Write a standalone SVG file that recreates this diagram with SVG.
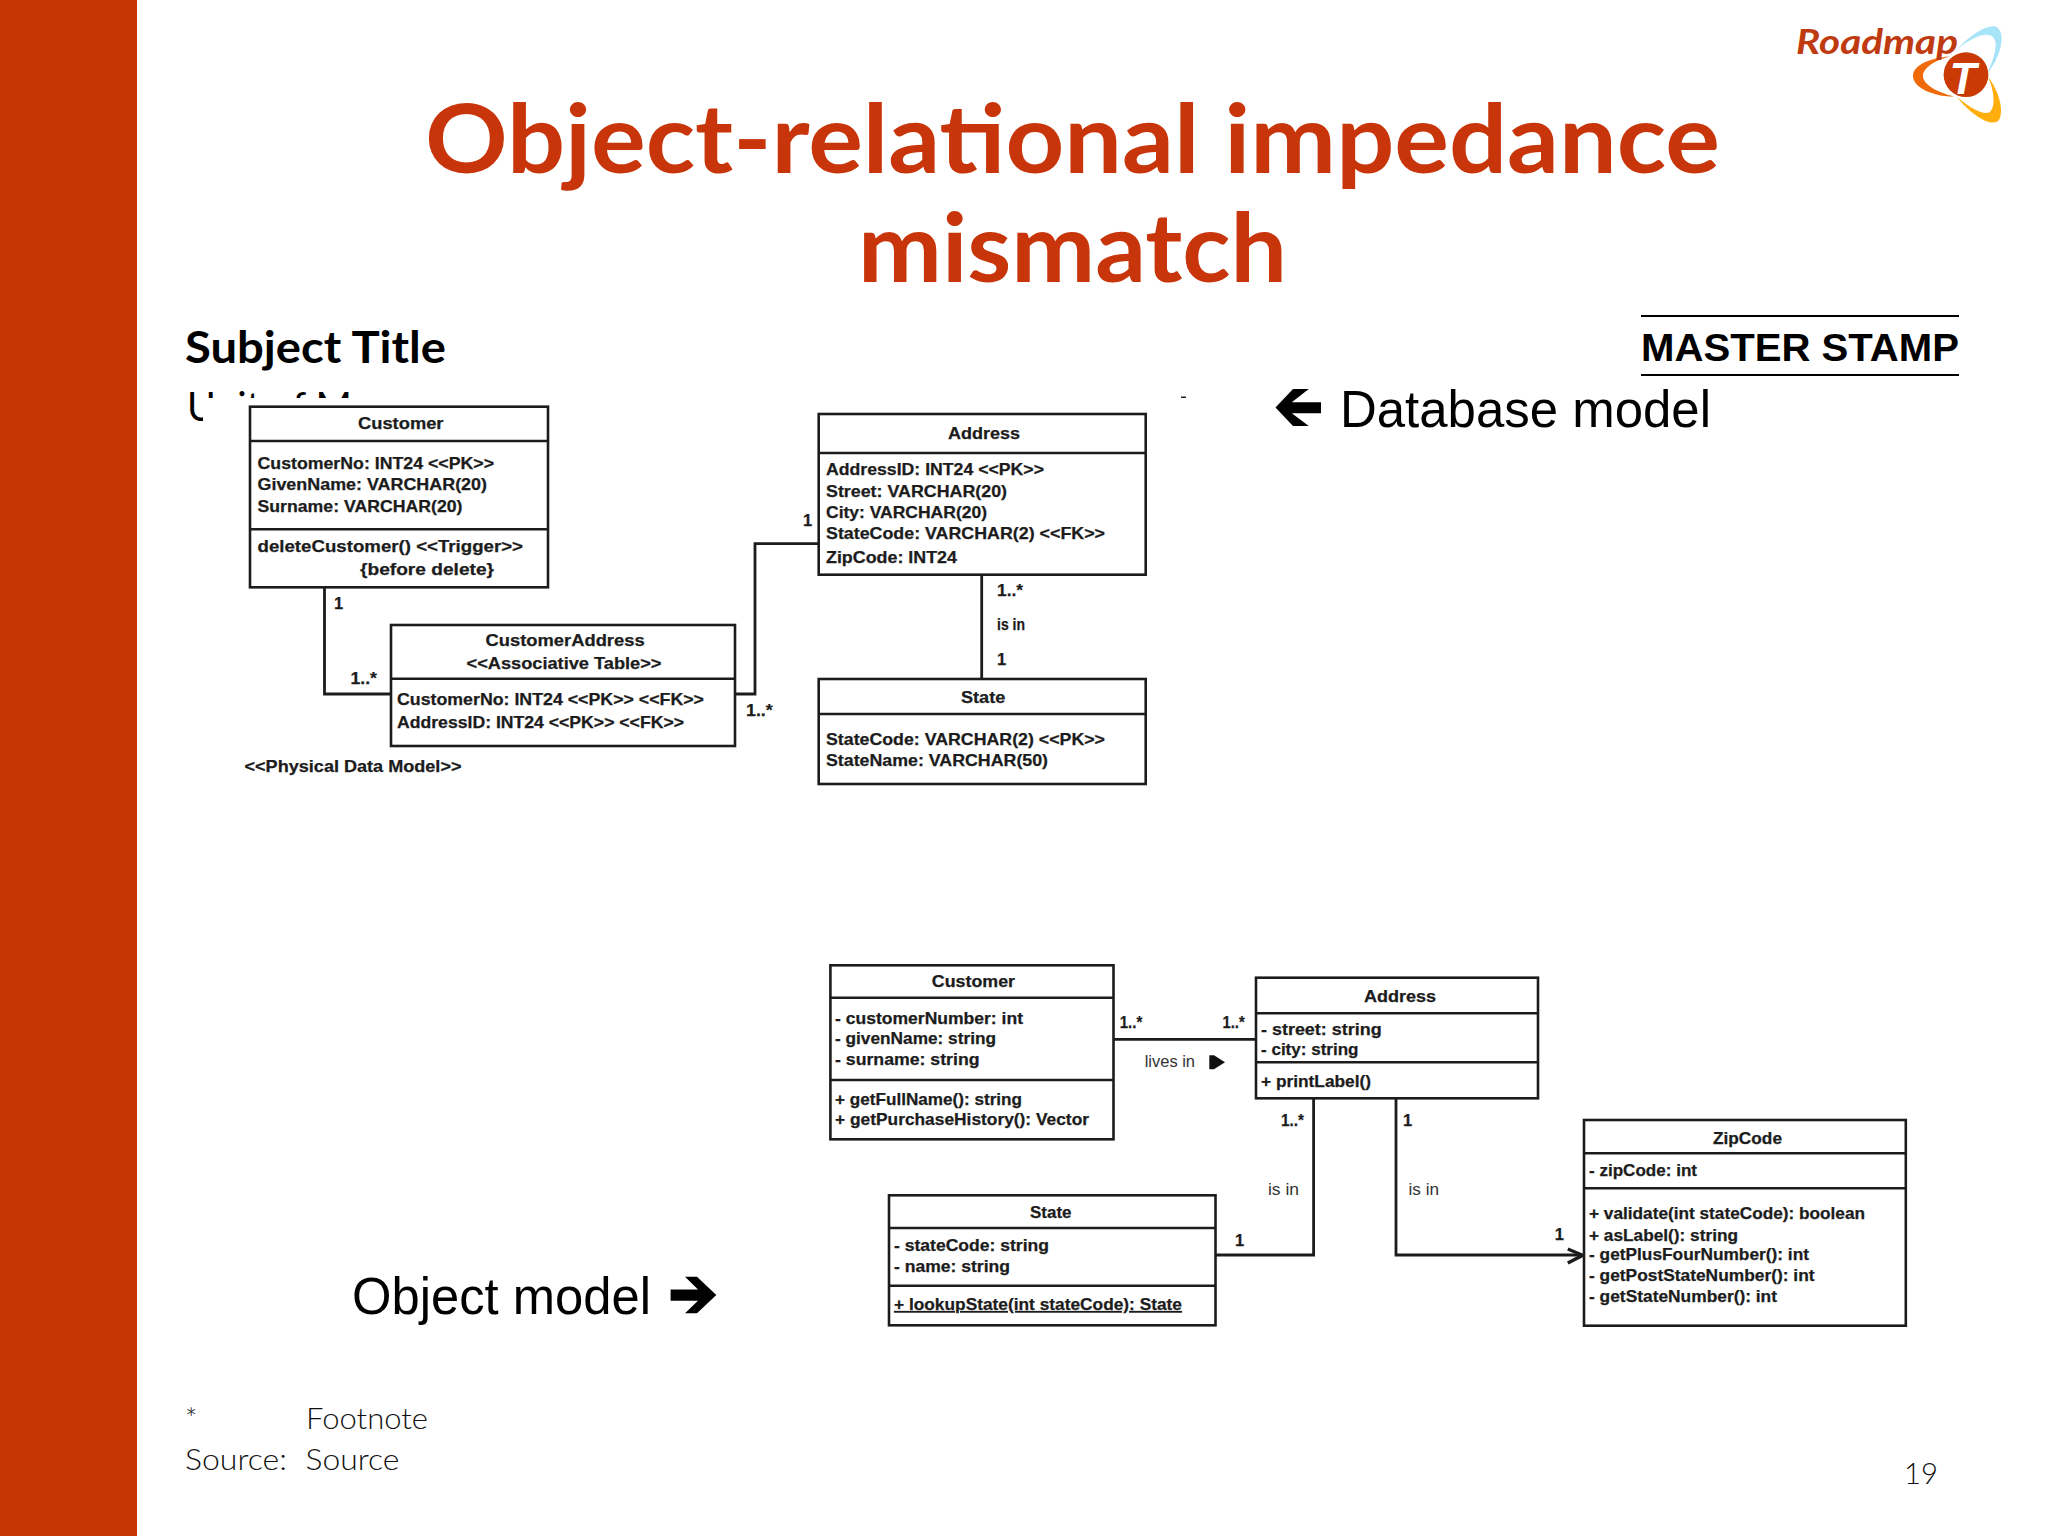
<svg xmlns="http://www.w3.org/2000/svg" width="2048" height="1536" viewBox="0 0 2048 1536">
<style>
.t{font-family:"Lato","Noto Sans",sans-serif}
.title{font-size:95px;font-weight:700;fill:#c8350a}
.sub{font-size:44px;font-weight:700;fill:#000}
.unit{font-size:40px;fill:#000}
.foot{font-size:29px;font-weight:300;fill:#111}
.h{font-family:"Liberation Sans",Arial,sans-serif;fill:#000}
.big{font-size:52px}
.m{font-family:"Liberation Sans",Arial,sans-serif;font-size:16.5px;font-weight:700;fill:#1c1c1c;stroke:#1c1c1c;stroke-width:.25}
.n{font-family:"Liberation Sans",Arial,sans-serif;font-size:16.5px;fill:#333}
.b{fill:#fff;stroke:#1c1c1c;stroke-width:2.6}
.d{stroke:#1c1c1c;stroke-width:2.6;fill:none}
.c{stroke:#1c1c1c;stroke-width:2.8;fill:none}
</style>
<rect width="2048" height="1536" fill="#fff"/>
<rect id="sidebar" width="137" height="1536" fill="#c63406"/>
<g id="heading">
<text class="t title" x="425" y="173" textLength="1295" lengthAdjust="spacingAndGlyphs">Object-relational impedance</text>
<text class="t title" x="858" y="282" textLength="429" lengthAdjust="spacingAndGlyphs">mismatch</text>
<text class="t sub" x="185" y="363" textLength="261" lengthAdjust="spacingAndGlyphs">Subject Title</text>
<text class="t unit" x="187" y="421" textLength="165" lengthAdjust="spacingAndGlyphs">Unit of M</text>
<rect x="203" y="398" width="990" height="30" fill="#fff"/>
<rect x="1181" y="396.5" width="5" height="1.5" fill="#222"/>
</g>
<g id="stamp">
<line x1="1641" y1="316" x2="1959" y2="316" stroke="#000" stroke-width="2"/>
<line x1="1641" y1="375" x2="1959" y2="375" stroke="#000" stroke-width="2"/>
<text class="h" x="1641" y="361" font-size="38.5" font-weight="700" textLength="318" lengthAdjust="spacingAndGlyphs">MASTER STAMP</text>
</g>
<g id="logo">
<path d="M1956.7 50C1972 32 1992 22 1998 28C2006 36 2000 58 1987 74C1996 54 1998 42 1993 37C1987 31 1970 38 1956.7 50Z" fill="#a8e4f8"/>
<path d="M1950 56.5C1928 58 1913 66 1913 76C1913 88 1935 97 1954 96.5C1936 92 1923 84 1923 76C1923 68 1935 60 1950 56.5Z" fill="#f06a0a"/>
<path d="M1988 77C2000 92 2004 112 1999 120C1992 128 1972 116 1957 97C1970 108 1984 116 1990 112C1996 106 1994 90 1988 77Z" fill="#ffae0d"/>
<circle cx="1966" cy="74.7" r="22.4" fill="#c93a05"/>
<text class="h" x="1963" y="93.5" font-size="44" font-weight="700" font-style="italic" text-anchor="middle" style="fill:#fff">T</text>
<text class="t" x="1796" y="54" font-size="34" font-weight="700" font-style="italic" fill="#bf3a10" textLength="162" lengthAdjust="spacingAndGlyphs">Roadmap</text>
</g>
<g id="labels">
<polygon points="1293,389 1308.8,389 1291.8,402.3 1321,402.3 1321,413.3 1291.8,413.3 1308.8,426 1293,426 1275.5,407.5" fill="#000"/>
<text class="h big" x="1340" y="426.5" textLength="371" lengthAdjust="spacingAndGlyphs">Database model</text>
<text class="h big" x="352" y="1313.8" textLength="299" lengthAdjust="spacingAndGlyphs">Object model</text>
<polygon points="670.6,1289.5 698,1289.5 685,1276.7 697,1276.7 716.3,1295 697,1313.3 685,1313.3 698,1300.7 670.6,1300.7" fill="#000"/>
<text class="t foot" x="185" y="1429.3">*</text>
<text class="t foot" x="306" y="1429.3" textLength="122" lengthAdjust="spacingAndGlyphs">Footnote</text>
<text class="t foot" x="185" y="1470" textLength="102" lengthAdjust="spacingAndGlyphs">Source:</text>
<text class="t foot" x="305.5" y="1470" textLength="94" lengthAdjust="spacingAndGlyphs">Source</text>
<text class="t foot" x="1904" y="1483.6" font-size="32" textLength="34" lengthAdjust="spacingAndGlyphs">19</text>
</g>
<g id="connectors">
<path class="c" d="M324.5 587V694H391"/>
<path class="c" d="M735 694H755V543.7H818.7"/>
<path class="c" d="M981.7 574.7V679"/>
<path class="c" d="M1113.5 1039.3H1256"/>
<path class="c" d="M1313.6 1098.3V1255H1215.5"/>
<path class="c" d="M1396 1098.3V1255H1582"/>
<path class="c" stroke-linejoin="miter" style="stroke-width:3.4" d="M1567.8 1249L1582.7 1255.3L1567.8 1263"/>
<polygon points="1209.3,1055.3 1214,1055.3 1225,1062.3 1214,1069.3 1209.3,1069.3" fill="#111"/>
</g>
<g id="db-connector-labels">
<text class="m" x="334" y="609.3">1</text>
<text class="m" x="350.5" y="684" textLength="26.5" lengthAdjust="spacingAndGlyphs">1..*</text>
<text class="m" x="746" y="716" textLength="26.7" lengthAdjust="spacingAndGlyphs">1..*</text>
<text class="m" x="803" y="526">1</text>
<text class="m" x="997" y="596" textLength="26" lengthAdjust="spacingAndGlyphs">1..*</text>
<text class="m" x="997" y="630" textLength="28" lengthAdjust="spacingAndGlyphs">is in</text>
<text class="m" x="997" y="665">1</text>
</g>
<g id="db-customer">
<rect class="b" x="250" y="406.7" width="298" height="180.6"/>
<path class="d" d="M250 441H548M250 529.3H548"/>
<text class="m" x="358" y="429.3" textLength="85.5" lengthAdjust="spacingAndGlyphs">Customer</text>
<text class="m" x="257.5" y="469.3" textLength="236.5" lengthAdjust="spacingAndGlyphs">CustomerNo: INT24 &lt;&lt;PK&gt;&gt;</text>
<text class="m" x="257.5" y="490" textLength="229.5" lengthAdjust="spacingAndGlyphs">GivenName: VARCHAR(20)</text>
<text class="m" x="257.5" y="511.7" textLength="205" lengthAdjust="spacingAndGlyphs">Surname: VARCHAR(20)</text>
<text class="m" x="257.5" y="552.3" textLength="265.5" lengthAdjust="spacingAndGlyphs">deleteCustomer() &lt;&lt;Trigger&gt;&gt;</text>
<text class="m" x="360" y="575.3" textLength="134" lengthAdjust="spacingAndGlyphs">{before delete}</text>
</g>
<g id="db-customer-address">
<rect class="b" x="391" y="625" width="344" height="121"/>
<path class="d" d="M391 678.7H735"/>
<text class="m" x="485.6" y="646" textLength="159" lengthAdjust="spacingAndGlyphs">CustomerAddress</text>
<text class="m" x="466.5" y="668.7" textLength="195" lengthAdjust="spacingAndGlyphs">&lt;&lt;Associative Table&gt;&gt;</text>
<text class="m" x="397" y="705.3" textLength="307" lengthAdjust="spacingAndGlyphs">CustomerNo: INT24 &lt;&lt;PK&gt;&gt; &lt;&lt;FK&gt;&gt;</text>
<text class="m" x="397" y="728" textLength="287" lengthAdjust="spacingAndGlyphs">AddressID: INT24 &lt;&lt;PK&gt;&gt; &lt;&lt;FK&gt;&gt;</text>
</g>
<g id="db-caption">
<text class="m" x="244.5" y="772.3" textLength="217" lengthAdjust="spacingAndGlyphs">&lt;&lt;Physical Data Model&gt;&gt;</text>
</g>
<g id="db-address">
<rect class="b" x="818.7" y="414" width="327" height="160.7"/>
<path class="d" d="M818.7 453H1145.7"/>
<text class="m" x="948" y="439" textLength="72" lengthAdjust="spacingAndGlyphs">Address</text>
<text class="m" x="826" y="475" textLength="218" lengthAdjust="spacingAndGlyphs">AddressID: INT24 &lt;&lt;PK&gt;&gt;</text>
<text class="m" x="826" y="496.7" textLength="181" lengthAdjust="spacingAndGlyphs">Street: VARCHAR(20)</text>
<text class="m" x="826" y="518" textLength="161" lengthAdjust="spacingAndGlyphs">City: VARCHAR(20)</text>
<text class="m" x="826" y="539" textLength="279" lengthAdjust="spacingAndGlyphs">StateCode: VARCHAR(2) &lt;&lt;FK&gt;&gt;</text>
<text class="m" x="826" y="562.7" textLength="131" lengthAdjust="spacingAndGlyphs">ZipCode: INT24</text>
</g>
<g id="db-state">
<rect class="b" x="818.7" y="679" width="327" height="105"/>
<path class="d" d="M818.7 714H1145.7"/>
<text class="m" x="961" y="702.7" textLength="44.3" lengthAdjust="spacingAndGlyphs">State</text>
<text class="m" x="826" y="745" textLength="279" lengthAdjust="spacingAndGlyphs">StateCode: VARCHAR(2) &lt;&lt;PK&gt;&gt;</text>
<text class="m" x="826" y="766" textLength="222" lengthAdjust="spacingAndGlyphs">StateName: VARCHAR(50)</text>
</g>
<g id="obj-connector-labels">
<text class="m" x="1119.7" y="1028.3" textLength="22.6" lengthAdjust="spacingAndGlyphs">1..*</text>
<text class="m" x="1222.5" y="1028.3" textLength="22.2" lengthAdjust="spacingAndGlyphs">1..*</text>
<text class="n" x="1144.7" y="1066.7" textLength="50.3" lengthAdjust="spacingAndGlyphs">lives in</text>
<text class="m" x="1281" y="1126" textLength="23" lengthAdjust="spacingAndGlyphs">1..*</text>
<text class="m" x="1403" y="1126">1</text>
<text class="n" x="1268" y="1195" textLength="31" lengthAdjust="spacingAndGlyphs">is in</text>
<text class="n" x="1408.5" y="1195" textLength="30.5" lengthAdjust="spacingAndGlyphs">is in</text>
<text class="m" x="1235" y="1246">1</text>
<text class="m" x="1554.7" y="1240">1</text>
</g>
<g id="obj-customer">
<rect class="b" x="830.4" y="965.3" width="283.1" height="174"/>
<path class="d" d="M830.4 997.7H1113.5M830.4 1080H1113.5"/>
<text class="m" x="931.8" y="986.7" textLength="83.2" lengthAdjust="spacingAndGlyphs">Customer</text>
<text class="m" x="835" y="1024" textLength="188" lengthAdjust="spacingAndGlyphs">- customerNumber: int</text>
<text class="m" x="835" y="1044" textLength="161" lengthAdjust="spacingAndGlyphs">- givenName: string</text>
<text class="m" x="835" y="1065.3" textLength="144.5" lengthAdjust="spacingAndGlyphs">- surname: string</text>
<text class="m" x="835" y="1104.7" textLength="187" lengthAdjust="spacingAndGlyphs">+ getFullName(): string</text>
<text class="m" x="835" y="1125.3" textLength="254" lengthAdjust="spacingAndGlyphs">+ getPurchaseHistory(): Vector</text>
</g>
<g id="obj-address">
<rect class="b" x="1256" y="977.7" width="282" height="120.6"/>
<path class="d" d="M1256 1013.3H1538M1256 1062.3H1538"/>
<text class="m" x="1364" y="1001.7" textLength="72" lengthAdjust="spacingAndGlyphs">Address</text>
<text class="m" x="1261" y="1035" textLength="120.6" lengthAdjust="spacingAndGlyphs">- street: string</text>
<text class="m" x="1261" y="1055" textLength="97.5" lengthAdjust="spacingAndGlyphs">- city: string</text>
<text class="m" x="1261" y="1086.7" textLength="110" lengthAdjust="spacingAndGlyphs">+ printLabel()</text>
</g>
<g id="obj-state">
<rect class="b" x="889" y="1195.3" width="326.5" height="130"/>
<path class="d" d="M889 1228H1215.5M889 1285.7H1215.5"/>
<text class="m" x="1030" y="1218.3" textLength="41.5" lengthAdjust="spacingAndGlyphs">State</text>
<text class="m" x="894" y="1251" textLength="155" lengthAdjust="spacingAndGlyphs">- stateCode: string</text>
<text class="m" x="894" y="1272.3" textLength="116" lengthAdjust="spacingAndGlyphs">- name: string</text>
<text class="m" x="894" y="1310" textLength="288" lengthAdjust="spacingAndGlyphs" text-decoration="underline">+ lookupState(int stateCode): State</text>
</g>
<g id="obj-zipcode">
<rect class="b" x="1584" y="1120" width="321.8" height="205.7"/>
<path class="d" d="M1584 1153.3H1905.8M1584 1188.3H1905.8"/>
<text class="m" x="1713" y="1144" textLength="69" lengthAdjust="spacingAndGlyphs">ZipCode</text>
<text class="m" x="1589" y="1175.7" textLength="108" lengthAdjust="spacingAndGlyphs">- zipCode: int</text>
<text class="m" x="1589" y="1219.3" textLength="276" lengthAdjust="spacingAndGlyphs">+ validate(int stateCode): boolean</text>
<text class="m" x="1589" y="1240.7" textLength="149" lengthAdjust="spacingAndGlyphs">+ asLabel(): string</text>
<text class="m" x="1589" y="1260" textLength="220" lengthAdjust="spacingAndGlyphs">- getPlusFourNumber(): int</text>
<text class="m" x="1589" y="1281" textLength="225.5" lengthAdjust="spacingAndGlyphs">- getPostStateNumber(): int</text>
<text class="m" x="1589" y="1302.3" textLength="188" lengthAdjust="spacingAndGlyphs">- getStateNumber(): int</text>
</g>
</svg>
